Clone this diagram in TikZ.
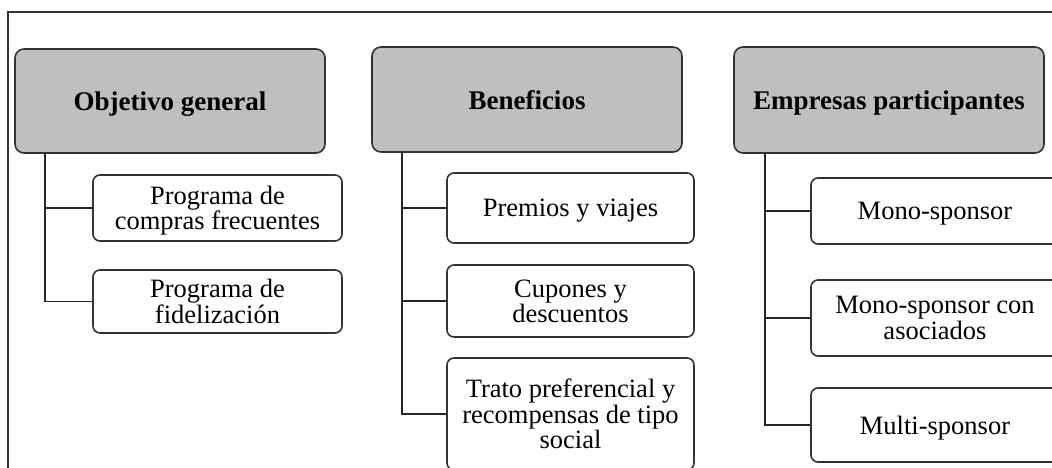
\documentclass[tikz,border=0pt]{standalone}
\usepackage{fontspec}
\setmainfont{Liberation Serif}
\begin{document}
\begin{tikzpicture}[x=1pt,y=-1pt,
  head/.style={draw=black!80, line width=1.6pt, fill=black!25, rounded corners=9pt,
    minimum width=310pt, inner sep=0pt, text depth=0pt, font=\fontsize{27}{28}\selectfont\bfseries},
  item/.style={draw=black!80, line width=1.6pt, fill=white, rounded corners=7pt,
    inner sep=0pt, align=center, text depth=0pt, font=\fontsize{26.5}{25.5}\selectfont},
  conn/.style={draw=black!85, line width=1.6pt}]
\useasboundingbox (0,0) rectangle (1052,468);
\clip (0,0) rectangle (1052,468);
% frame
\draw[line width=1.2pt, black!80] (1052,12) -- (8,12) -- (8,470);
% headers
\node[head, minimum height=104pt] (h1) at (170,101) {Objetivo general};
\node[head, minimum height=105pt] (h2) at (527,99.5) {Beneficios};
\node[head, minimum height=106pt] (h3) at (889,100) {Empresas participantes};
% column 1
\node[item, minimum width=249pt, minimum height=66pt] (c11) at (217.5,208) {Programa de\\compras frecuentes};
\node[item, minimum width=249pt, minimum height=63pt] (c12) at (217.5,301.5) {Programa de\\fidelización};
% column 2
\node[item, minimum width=247pt, minimum height=70pt] (c21) at (570.5,208) {Premios y viajes};
\node[item, minimum width=247pt, minimum height=72pt] (c22) at (570.5,301) {Cupones y\\descuentos};
\node[item, minimum width=247pt, minimum height=112pt] (c23) at (570.5,414) {Trato preferencial y\\recompensas de tipo\\social};
% column 3
\node[item, minimum width=248pt, minimum height=66pt] (c31) at (935,211) {Mono-sponsor};
\node[item, minimum width=248pt, minimum height=76pt] (c32) at (935,318) {Mono-sponsor con\\asociados};
\node[item, minimum width=248pt, minimum height=74pt] (c33) at (935,425) {Multi-sponsor};
% trunks
\coordinate (t1) at ([xshift=31pt]h1.south west);
\coordinate (t2) at ([xshift=31pt]h2.south west);
\coordinate (t3) at ([xshift=32pt]h3.south west);
\draw[conn] (t1) |- (c12.west);
\draw[conn] (t1 |- c11.west) -- (c11.west);
\draw[conn] (t2) |- (c23.west);
\draw[conn] (t2 |- c21.west) -- (c21.west);
\draw[conn] (t2 |- c22.west) -- (c22.west);
\draw[conn] (t3) |- (c33.west);
\draw[conn] (t3 |- c31.west) -- (c31.west);
\draw[conn] (t3 |- c32.west) -- (c32.west);
\end{tikzpicture}
\end{document}
